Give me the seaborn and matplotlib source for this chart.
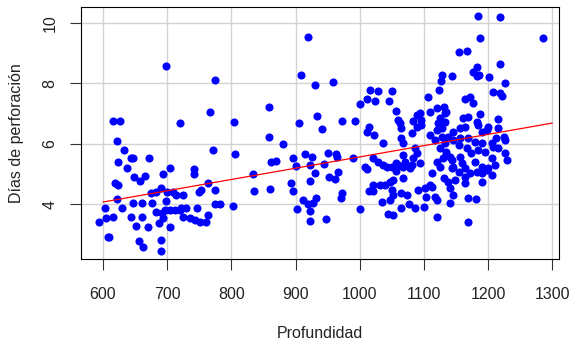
import numpy as np
import pandas as pd
import matplotlib
matplotlib.use("Agg")
import matplotlib.pyplot as plt
import seaborn as sns

# Profundidad del pozo (x) y días de perforación (y)
profundidad = [
    698, 775, 616, 627, 720, 766, 804, 919, 909, 931, 958, 858,
    1016, 1029, 1051, 1011, 1023, 1045, 1001, 1056, 1060, 1063, 1065,
    906, 934, 941, 972, 992, 1014, 1011, 1022, 858,
    1185, 1218, 1285, 1188, 1154, 1167, 1218, 1182, 1176, 1182, 1186,
    1128, 1127, 1143, 1202, 1227, 1107, 1124, 1164, 1172, 1176,
    1208, 1218, 1221, 1188, 1215,
    622, 632, 643, 646, 624, 638, 672, 704, 693, 649, 657, 665, 619, 624,
    622, 603, 594, 605, 616, 629, 608, 610, 647, 661, 677, 643, 660, 652,
    670, 656, 662, 690, 690, 675, 683, 691, 699, 709, 714, 724, 698, 683,
    692, 696, 704, 712, 720, 688, 704, 693, 741, 742, 764, 774, 752, 750,
    746, 725, 735, 743, 751, 761, 764, 730, 722, 771, 806, 774, 783, 803,
    880, 834, 836, 860, 861, 870, 896, 915, 925, 900, 922, 930, 922, 893,
    896, 951, 963, 964, 944, 952, 961, 966, 990, 973, 971, 912, 920, 927,
    932, 902, 922, 923, 947, 1001, 1008, 1011, 1014, 1036,
    1109, 1120, 1131, 1133, 1125, 1122, 1128, 1120, 1109, 1117, 1128, 1138,
    1133, 1125, 1135, 1141, 1130, 1120, 1125, 1083, 1089, 1094, 1096, 1089,
    1096, 1065, 1068, 1081, 1086, 1089, 1068, 1071, 1021, 1029, 1037, 1042,
    1057, 1060, 1081, 1094, 1083,
    1169, 1161, 1182, 1185, 1200, 1198, 1216, 1190, 1164, 1156, 1146, 1135,
    1133, 1146, 1156, 1169, 1180, 1190, 1206, 1213, 1224, 1226, 1208, 1216,
    1154, 1167, 1174, 1185, 1195, 1206, 1226, 1229, 1135, 1143, 1156, 1159,
    1146, 1164, 1180, 1190, 1200, 1211,
    1050, 1056, 1068, 1078, 1112, 1131, 1138, 1021, 1031, 1039, 1047, 1052,
    1068, 1021, 1050, 1052, 1065, 1073, 1091, 1102, 1109, 1117, 1120, 1112,
    1104, 1034, 1047, 1065, 1076, 1086, 1100, 1044, 1052, 1121,
    1143, 1154, 1148, 1164, 1172, 1182, 1190, 1198, 1206, 1190, 1141, 1164,
    1146, 1168, 1181, 1141, 1169,
]
dias = [
    8.56, 8.09, 6.74, 6.74, 6.67, 7.05, 6.70, 9.53, 8.27, 7.95, 8.04, 7.20,
    7.78, 7.74, 7.74, 7.47, 7.40, 7.40, 7.32, 7.08, 6.77, 6.67, 6.52,
    6.67, 6.91, 6.48, 6.74, 6.74, 6.55, 6.39, 6.29, 6.21,
    10.22, 10.18, 9.49, 9.49, 9.04, 9.07, 8.62, 8.52, 8.36, 8.23, 8.27,
    8.28, 8.07, 8.24, 8.21, 8.00, 7.55, 7.77, 7.47, 7.53, 7.35,
    7.72, 7.68, 7.58, 6.98, 6.81,
    6.08, 5.79, 5.52, 5.52, 5.40, 5.20, 5.51, 5.18, 4.99, 4.90, 4.77, 4.93, 4.68, 4.63,
    4.16, 3.86, 3.39, 3.53, 3.58, 3.86, 2.92, 2.90, 4.02, 4.02, 4.02, 3.56, 3.56, 3.28,
    3.25, 2.79, 2.57, 2.81, 2.45, 4.35, 4.41, 4.52, 4.41, 4.41, 4.30, 4.30, 4.11, 3.75,
    3.69, 3.80, 3.80, 3.80, 3.80, 3.36, 3.25, 3.53, 5.15, 4.98, 4.70, 4.46, 4.45, 4.40,
    3.86, 3.56, 3.53, 3.47, 3.41, 3.41, 3.64, 3.86, 3.86, 5.79, 5.65, 4.00, 4.00, 3.94,
    5.98, 4.98, 4.44, 4.51, 5.38, 5.43, 5.52, 5.65, 5.55, 5.26, 5.29, 5.04, 4.77, 4.68,
    4.44, 5.70, 5.65, 5.55, 5.31, 4.88, 4.82, 5.05, 5.51, 4.35, 4.21, 4.13, 4.00, 4.04,
    4.19, 3.83, 3.78, 3.45, 3.49, 3.83, 5.23, 5.15, 4.44, 6.01,
    7.05, 7.19, 7.22, 7.00, 6.84, 6.67, 6.50, 6.45, 6.28, 6.12, 6.23, 6.23,
    6.01, 5.84, 5.73, 5.57, 5.51, 5.40, 5.23, 6.74, 6.94, 7.00, 6.77, 6.56,
    6.61, 6.17, 6.01, 6.34, 5.84, 5.68, 5.62, 5.40, 5.51, 5.40, 5.29, 5.23,
    5.35, 5.29, 5.29, 5.35, 5.51,
    6.89, 6.84, 6.72, 6.61, 6.56, 6.45, 6.50, 6.39, 6.56, 6.50, 6.39, 7.05,
    6.72, 6.12, 6.17, 6.17, 6.06, 6.01, 6.01, 6.17, 6.23, 6.12, 5.90, 5.84,
    5.95, 5.84, 5.68, 5.79, 5.73, 5.51, 5.68, 5.46, 5.62, 5.46, 5.57, 5.35,
    5.23, 5.18, 5.40, 5.23, 5.18, 5.29,
    5.23, 5.09, 5.23, 5.18, 5.02, 4.85, 4.74, 4.63, 4.63, 4.63, 4.74, 4.79,
    4.87, 4.43, 4.46, 4.30, 4.35, 4.30, 4.46, 4.52, 4.63, 4.24, 4.13, 4.57,
    4.24, 4.08, 4.13, 3.88, 3.99, 3.88, 3.91, 3.66, 3.64, 3.58,
    5.18, 5.07, 4.79, 4.90, 5.02, 5.07, 5.02, 5.13, 4.96, 4.74, 4.52, 4.68,
    4.30, 4.19, 4.16, 4.02, 3.39,
]

x_ticks = [600, 700, 800, 900, 1000, 1100, 1200, 1300]
y_ticks = [4, 6, 8, 10]
recta_x = [600, 1300]

df = pd.DataFrame({"Profundidad": profundidad, "Dias": dias})

# Ajuste lineal por mínimos cuadrados
pendiente, intercepto = np.polyfit(df["Profundidad"], df["Dias"], 1)
recta = pd.DataFrame({"x": recta_x})
recta["y"] = intercepto + pendiente * recta["x"]

sns.set_style("white")
plt.rcParams["font.family"] = ["Liberation Sans", "DejaVu Sans"]

fig = plt.figure(figsize=(5.70, 3.45), dpi=100)
ax = fig.add_axes([0.1421, 0.2484, 0.8391, 0.7322])

ax.set_xlim(565.7, 1310.9)
ax.set_ylim(2.17, 10.53)
ax.set_xticks(x_ticks)
ax.set_yticks(y_ticks)

for v in x_ticks:
    ax.axvline(v, color="#d3d3d3", lw=1.0, zorder=0)
for h in y_ticks:
    ax.axhline(h, color="#d3d3d3", lw=1.0, zorder=0)

sns.scatterplot(data=df, x="Profundidad", y="Dias", color="blue",
                s=34, linewidth=0, ax=ax, zorder=2)
sns.lineplot(data=recta, x="x", y="y", color="red", lw=0.9, ax=ax, zorder=3)

for side in ax.spines.values():
    side.set_visible(True)
    side.set_color("black")
    side.set_linewidth(0.8)

ax.tick_params(axis="x", bottom=True, direction="out", length=8, width=0.8,
               color="#333333", pad=12, labelsize=11.5, labelcolor="#222222")
ax.tick_params(axis="y", left=True, direction="out", length=8, width=0.8,
               color="#333333", pad=9, labelsize=11.5, labelcolor="#222222")
for lab in ax.get_yticklabels():
    lab.set_rotation(90)
    lab.set_verticalalignment("center")

ax.set_xlabel("Profundidad", fontsize=11.5, color="#222222")
ax.set_ylabel("Días de perforación", fontsize=11.5, color="#222222")
ax.xaxis.label.set_verticalalignment("center")
ax.yaxis.label.set_verticalalignment("center")
ax.xaxis.set_label_coords(0.5, (259.3 - 333) / 252.6)
ax.yaxis.set_label_coords((17 - 81) / 478.3, 0.5)

fig.savefig("out.png", dpi=100)
